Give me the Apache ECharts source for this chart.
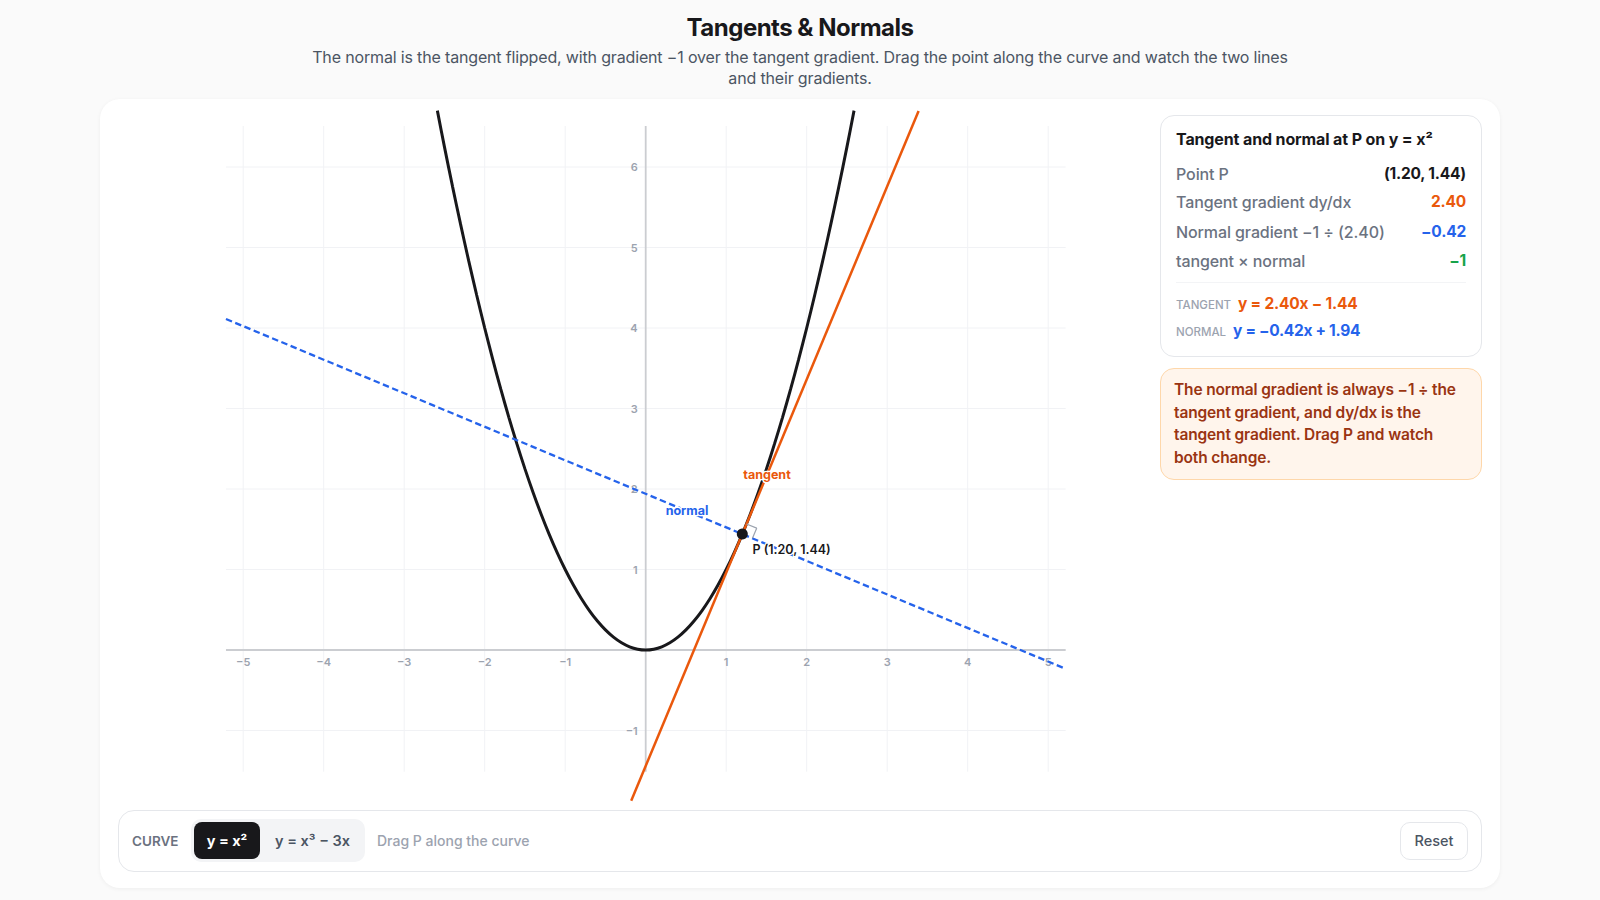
<!DOCTYPE html>
<html><head><meta charset="utf-8">
<script src="https://cdn.jsdelivr.net/npm/echarts@6/dist/echarts.min.js"></script>
<style>
*{box-sizing:border-box;margin:0;padding:0}
html,body{width:1600px;height:900px;background:#fafafa;overflow:hidden;font-family:Inter,sans-serif;color:#18181b}
.abs{position:absolute;white-space:nowrap}
h1{position:absolute;left:0;width:1600px;text-align:center;top:13px;font-size:24px;line-height:30px;font-weight:700;letter-spacing:-.5px}
.sub{position:absolute;left:0;width:1600px;text-align:center;top:47px;font-size:16px;line-height:21px;color:#4b5563;letter-spacing:-.16px}
#card{position:absolute;left:100px;top:99px;width:1400px;height:789px;background:#fff;border-radius:20px;box-shadow:0 1px 4px rgba(0,0,0,.05)}
#chart{position:absolute;left:0;top:0;width:1600px;height:900px}
#panel{position:absolute;left:1160px;top:115px;width:322px;height:242px;background:#fff;border:1px solid #e5e7eb;border-radius:14px}
#note{position:absolute;left:1160px;top:368px;width:322px;height:112px;background:#fff5ec;border:1px solid #fed7aa;border-radius:14px}
.row{font-size:16px;font-weight:500;color:#6b7280;line-height:20px;left:1176px;letter-spacing:-.1px}
.val{font-size:15.5px;font-weight:700;line-height:20px;right:134px;letter-spacing:-.2px}
.nl{font-size:15.5px;font-weight:600;color:#9a3412;line-height:22px;left:1174px;letter-spacing:-.14px}
#bar{position:absolute;left:118px;top:810px;width:1364px;height:62px;background:#fff;border:1px solid #e5e7eb;border-radius:16px}
</style></head><body>
<h1 id="title"></h1>
<div class="sub" id="sub"></div>
<div id="card"></div>
<div id="chart"></div>
<div id="panel"></div>
<div id="note"></div>
<div id="bar"></div>
<div style="position:absolute;left:191px;top:819px;width:174px;height:43px;background:#f3f4f6;border-radius:10px"></div>
<div style="position:absolute;left:194px;top:822px;width:66px;height:37px;background:#18181b;border-radius:8px"></div>
<div style="position:absolute;left:1400px;top:822px;width:68px;height:38px;background:#fff;border:1px solid #e5e7eb;border-radius:10px"></div>
<div id="txt"></div>
<script>
// ---- data ----
const xTicks = [-5,-4,-3,-2,-1,1,2,3,4,5];
const yTicks = [-1,1,2,3,4,5,6];
const gridXExtent = [-5.214, 5.217];
const gridYExtent = [-1.512, 6.51];
const curveX = [-2.588,-2.5,-2.4,-2.3,-2.2,-2.1,-2,-1.9,-1.8,-1.7,-1.6,-1.5,-1.4,-1.3,-1.2,-1.1,-1,-0.9,-0.8,-0.7,-0.6,-0.5,-0.4,-0.3,-0.2,-0.1,0,0.1,0.2,0.3,0.4,0.5,0.6,0.7,0.8,0.9,1,1.1,1.2,1.3,1.4,1.5,1.6,1.7,1.8,1.9,2,2.1,2.2,2.3,2.4,2.5,2.588];
const curveY = [6.70,6.25,5.76,5.29,4.84,4.41,4,3.61,3.24,2.89,2.56,2.25,1.96,1.69,1.44,1.21,1,0.81,0.64,0.49,0.36,0.25,0.16,0.09,0.04,0.01,0,0.01,0.04,0.09,0.16,0.25,0.36,0.49,0.64,0.81,1,1.21,1.44,1.69,1.96,2.25,2.56,2.89,3.24,3.61,4,4.41,4.84,5.29,5.76,6.25,6.70];
const tangentLine = [[-0.18,-1.872],[3.39,6.696]];
const normalLine = [[-5.214,4.112],[5.217,-0.234]];
const pointP = [1.2,1.44];
const rightAngle = [[1.2526,1.566],[1.3786,1.5134],[1.326,1.3874]];
const labelTangent = [1.507,2.174];
const labelNormal = [0.513,1.727];
const labelP = [1.812,1.251];
const titleText = "Tangents & Normals";
const subLines = ["The normal is the tangent flipped, with gradient −1 over the tangent gradient. Drag the point along the curve and watch the two lines","and their gradients."];
const rows = [["Point P","(1.20, 1.44)","#18181b"],["Tangent gradient dy/dx","2.40","#ea580c"],["Normal gradient −1 ÷ (2.40)","−0.42","#2563eb"],["tangent × normal","−1","#16a34a"]];
const noteLines = ["The normal gradient is always −1 ÷ the","tangent gradient, and dy/dx is the","tangent gradient. Drag P and watch","both change."];

// ---- page text ----
document.getElementById('title').textContent = titleText;
document.getElementById('sub').innerHTML = subLines.join('<br>');
let h = '';
h += `<div class="abs" style="left:1176px;top:129px;font-size:16px;line-height:20px;font-weight:700;letter-spacing:-.13px">Tangent and normal at P on y = x²</div>`;
const rowY = [164,192,222,251];
rows.forEach((r,i)=>{
  h += `<div class="abs row" style="top:${rowY[i]}px">${r[0]}</div>`;
  h += `<div class="abs val" style="top:${rowY[i]}px;color:${r[2]}">${r[1]}</div>`;
});
h += `<div class="abs" style="left:1176px;top:282px;width:290px;height:1px;background:#f3f4f6"></div>`;
h += `<div class="abs" style="left:1176px;top:297px;font-size:11.5px;line-height:16px;font-weight:500;color:#9ca3af">TANGENT</div>`;
h += `<div class="abs" style="left:1238px;top:294px;font-size:15.5px;line-height:20px;font-weight:700;color:#ea580c;letter-spacing:-.2px">y = 2.40x − 1.44</div>`;
h += `<div class="abs" style="left:1176px;top:324px;font-size:11.5px;line-height:16px;font-weight:500;color:#9ca3af">NORMAL</div>`;
h += `<div class="abs" style="left:1233px;top:321px;font-size:15.5px;line-height:20px;font-weight:700;color:#2563eb;letter-spacing:-.3px">y = −0.42x + 1.94</div>`;
const noteY=[379,402,424,447];
noteLines.forEach((t,i)=>{ h += `<div class="abs nl" style="top:${noteY[i]}px">${t}</div>`; });
h += `<div class="abs" style="left:132px;top:831px;font-size:13.5px;line-height:20px;font-weight:600;color:#6b7280">CURVE</div>`;
h += `<div class="abs" style="left:194px;width:66px;text-align:center;top:831px;font-size:14.5px;line-height:20px;font-weight:700;color:#fff">y = x²</div>`;
h += `<div class="abs" style="left:275px;top:831px;font-size:14.5px;line-height:20px;font-weight:600;color:#4b5563">y = x³ − 3x</div>`;
h += `<div class="abs" style="left:377px;top:831px;font-size:14px;line-height:20px;font-weight:500;color:#9ca3af">Drag P along the curve</div>`;
h += `<div class="abs" style="left:1400px;width:68px;text-align:center;top:831px;font-size:14.5px;line-height:20px;font-weight:500;color:#4b5563">Reset</div>`;
document.getElementById('txt').innerHTML = h;

// ---- chart ----
const gridSegs = [];
xTicks.forEach(x=>{ gridSegs.push([x,gridYExtent[0]],[x,gridYExtent[1]],[null,null]); });
yTicks.forEach(y=>{ gridSegs.push([gridXExtent[0],y],[gridXExtent[1],y],[null,null]); });
const axisSegs = [[gridXExtent[0],0],[gridXExtent[1],0],[null,null],[0,gridYExtent[0]],[0,gridYExtent[1]]];
const fmt = ticks => v => ticks.includes(v) ? String(v).replace('-','−') : '';
const axisFont = {fontFamily:'Inter',fontSize:11,fontWeight:600,color:'#9ca3af'};
const chart = echarts.init(document.getElementById('chart'),null,{renderer:'svg'});
const base = {type:'line',symbol:'none',silent:true,animation:false,connectNulls:false};
const textMark = (name,point,text,color,size,weight) => ({type:'scatter',name,silent:true,data:[point],symbolSize:0,z:6,itemStyle:{opacity:1},
  label:{show:true,position:'inside',formatter:text,fontFamily:'Inter',fontSize:size,fontWeight:weight,color,opacity:1,textBorderColor:'#fff',textBorderWidth:2.5}});
chart.setOption({
  animation:false,
  backgroundColor:'transparent',
  grid:{left:162.7,top:86.5,width:966,height:724.5},
  xAxis:{type:'value',min:-6,max:6,interval:1,position:'bottom',offset:-161,z:2,splitLine:{show:false},axisTick:{show:false},
    axisLine:{show:false,onZero:false},axisLabel:{...axisFont,margin:6,formatter:fmt(xTicks)}},
  yAxis:{type:'value',min:-2,max:7,interval:1,position:'left',offset:-483,z:2,splitLine:{show:false},axisTick:{show:false},
    axisLine:{show:false,onZero:false},axisLabel:{...axisFont,margin:8,padding:[0,0,2,0],formatter:fmt(yTicks)}},
  series:[
    {...base,name:'grid',data:gridSegs,z:1,lineStyle:{color:'#f1f2f5',width:1}},
    {...base,name:'axes',data:axisSegs,z:1,lineStyle:{color:'#cbcdd1',width:1.8}},
    {...base,name:'curve',data:curveX.map((x,i)=>[x,curveY[i]]),smooth:0.3,z:3,lineStyle:{color:'#18181b',width:3}},
    {...base,name:'tangent',data:tangentLine,z:4,lineStyle:{color:'#ea580c',width:2.5}},
    {...base,name:'normal',data:normalLine,z:4,lineStyle:{color:'#2563eb',width:2.3,type:[6.5,3.5]}},
    {...base,name:'right angle',data:rightAngle,z:5,lineStyle:{color:'#9ca3af',width:1.2}},
    textMark('tangent label',labelTangent,'tangent','#ea580c',12.5,700),
    textMark('normal label',labelNormal,'normal','#2563eb',12.5,700),
    textMark('P label',labelP,'P (1.20, 1.44)','#18181b',12.5,600),
    {type:'scatter',name:'P',silent:true,data:[pointP],symbolSize:11,z:7,itemStyle:{color:'#18181b',opacity:1}}
  ]
});
</script>
</body></html>
